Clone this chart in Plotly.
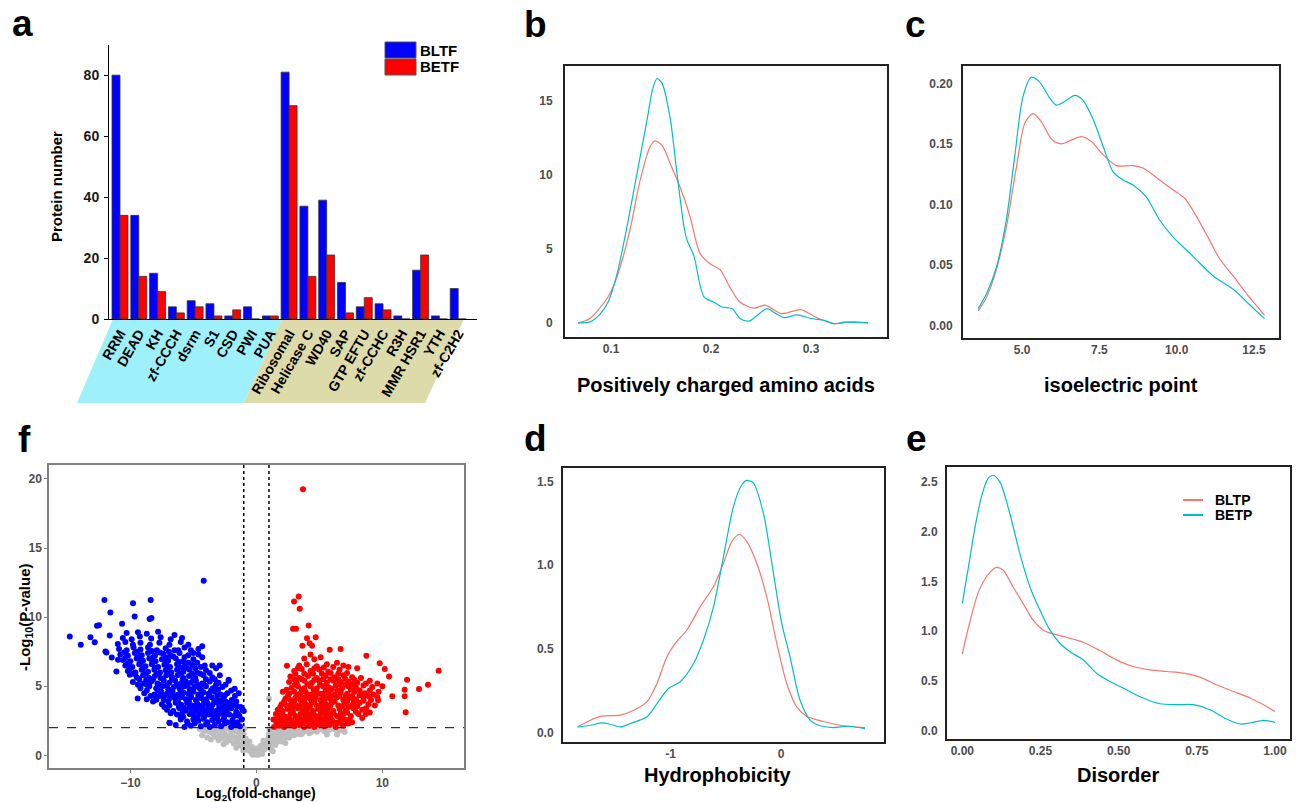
import plotly.graph_objects as go

W, H = 1296, 802
FONT = "Liberation Sans"
RED = "#F8766D"
CYAN = "#00BFC4"
TICKGRAY = "#4D4D4D"

# ---- panel a: domain families ----
domains = ["RRM", "DEAD", "KH", "zf-CCCH", "dsrm", "S1", "CSD", "PWI", "PUA",
           "Ribosomal", "Helicase C", "WD40", "SAP", "GTP EFTU", "zf-CCHC", "R3H",
           "MMR HSR1", "YTH", "zf-C2H2"]
bltf = [80, 34, 15, 4, 6, 5, 1, 4, 1, 81, 37, 39, 12, 4, 5, 1, 16, 1, 10]
betf = [34, 14, 9, 2, 4, 1, 3, 0, 1, 70, 14, 21, 2, 7, 3, 0, 21, 0, 0]

# ---- panel b: positively charged amino acids (density) ----
b_x_betp = [0.067, 0.079, 0.089, 0.097, 0.106, 0.116, 0.126, 0.136, 0.142, 0.146, 0.151, 0.159,
            0.166, 0.173, 0.176, 0.183, 0.193, 0.203, 0.211, 0.221, 0.229, 0.238, 0.246, 0.256,
            0.265, 0.273, 0.286, 0.300, 0.313, 0.323, 0.333, 0.357]
b_y_betp = [0.0, 0.07, 0.6, 1.4, 3.3, 6.5, 10.1, 13.7, 15.9, 16.5, 16.2, 13.9,
            10.1, 6.5, 5.6, 4.5, 1.76, 1.4, 1.08, 0.97, 0.3, 0.13, 0.5, 0.97,
            0.63, 0.36, 0.54, 0.3, 0.18, -0.05, 0.05, 0.0]
b_x_bltp = [0.067, 0.079, 0.097, 0.106, 0.119, 0.129, 0.139, 0.144, 0.151, 0.159, 0.169, 0.179,
            0.189, 0.199, 0.209, 0.219, 0.229, 0.243, 0.254, 0.270, 0.276, 0.290, 0.303, 0.316,
            0.323, 0.340, 0.357]
b_y_bltp = [0.0, 0.3, 1.75, 3.1, 6.3, 9.6, 11.9, 12.3, 12.0, 10.8, 9.2, 7.2,
            4.7, 4.0, 3.6, 2.4, 1.4, 1.0, 1.2, 0.63, 0.68, 0.9, 0.45, 0.07,
            -0.05, 0.07, 0.0]

# ---- panel c: isoelectric point ----
c_x_betp = [3.58, 3.85, 4.17, 4.49, 4.76, 5.03, 5.30, 5.57, 5.89, 6.11, 6.38, 6.70, 6.97,
            7.30, 7.62, 7.94, 8.27, 8.59, 9.02, 9.45, 9.88, 10.53, 11.17, 11.82, 12.36, 12.84]
c_y_betp = [0.0138, 0.026, 0.048, 0.087, 0.139, 0.189, 0.205, 0.201, 0.188, 0.182, 0.185, 0.190, 0.186,
            0.170, 0.148, 0.127, 0.120, 0.116, 0.106, 0.087, 0.073, 0.057, 0.041, 0.030, 0.017, 0.0055]
c_x_bltp = [3.58, 3.85, 4.17, 4.49, 4.82, 5.09, 5.36, 5.63, 5.95, 6.27, 6.59, 6.92, 7.24,
            7.62, 8.05, 8.59, 8.91, 9.45, 9.88, 10.26, 10.64, 11.07, 11.39, 11.82, 12.36, 12.84]
c_y_bltp = [0.0119, 0.023, 0.046, 0.081, 0.131, 0.167, 0.175, 0.168, 0.154, 0.150, 0.153, 0.156, 0.152,
            0.141, 0.132, 0.132, 0.130, 0.120, 0.112, 0.105, 0.090, 0.070, 0.055, 0.041, 0.023, 0.0083]

# ---- panel d: hydrophobicity ----
d_x_betp = [-1.84, -1.726, -1.62, -1.545, -1.455, -1.364, -1.214, -1.123, -1.018, -0.913, -0.792,
            -0.702, -0.611, -0.521, -0.431, -0.355, -0.31, -0.25, -0.16, -0.069, 0.006, 0.081,
            0.172, 0.262, 0.322, 0.473, 0.593, 0.759]
d_y_betp = [0.036, 0.046, 0.06, 0.052, 0.036, 0.056, 0.096, 0.175, 0.265, 0.305, 0.414,
            0.554, 0.753, 1.052, 1.35, 1.48, 1.506, 1.49, 1.31, 0.952, 0.653, 0.454,
            0.195, 0.076, 0.05, 0.032, 0.04, 0.026]
d_x_bltp = [-1.84, -1.726, -1.62, -1.455, -1.334, -1.214, -1.123, -1.033, -0.958, -0.852, -0.732,
            -0.611, -0.521, -0.446, -0.377, -0.31, -0.22, -0.13, -0.039, 0.051, 0.142, 0.232,
            0.383, 0.533, 0.759]
d_y_bltp = [0.036, 0.076, 0.10, 0.106, 0.135, 0.185, 0.295, 0.454, 0.534, 0.614, 0.753,
            0.873, 1.012, 1.141, 1.185, 1.141, 1.012, 0.813, 0.534, 0.295, 0.155, 0.10,
            0.068, 0.046, 0.032]

# ---- panel e: disorder ----
e_x_betp = [0.0, 0.018, 0.039, 0.061, 0.082, 0.098, 0.12, 0.152, 0.184, 0.216, 0.248, 0.28, 0.312,
            0.344, 0.386, 0.429, 0.472, 0.525, 0.578, 0.632, 0.685, 0.739, 0.792, 0.845, 0.888,
            0.92, 0.963, 1.0]
e_y_betp = [1.28, 1.614, 2.015, 2.35, 2.533, 2.567, 2.5, 2.18, 1.78, 1.447, 1.213, 1.013, 0.879,
            0.795, 0.712, 0.578, 0.495, 0.411, 0.328, 0.271, 0.261, 0.261, 0.211, 0.117, 0.067,
            0.077, 0.104, 0.084]
e_x_bltp = [0.0, 0.023, 0.05, 0.077, 0.109, 0.13, 0.162, 0.194, 0.226, 0.258, 0.29, 0.333, 0.386,
            0.44, 0.493, 0.546, 0.6, 0.653, 0.707, 0.76, 0.813, 0.867, 0.92, 0.963, 1.0]
e_y_bltp = [0.772, 1.08, 1.38, 1.547, 1.641, 1.614, 1.447, 1.28, 1.113, 1.013, 0.973, 0.939, 0.889,
            0.805, 0.712, 0.645, 0.612, 0.595, 0.578, 0.538, 0.461, 0.394, 0.328, 0.261, 0.194]

# ---- panel f: volcano (log2 fold change, -log10 p) ----
down_pts = [
    (-14.81, 8.60), (-13.94, 8.0), (-13.17, 8.55), (-12.83, 8.19), (-12.65, 9.37), (-12.49, 9.42),
    (-12.06, 11.25), (-11.98, 7.52), (-11.9, 7.45), (-11.59, 10.34), (-11.64, 8.67), (-11.48, 7.08),
    (-11.11, 6.07), (-10.98, 6.92), (-10.66, 9.52), (-10.05, 5.83), (-9.79, 11.01), (-9.66, 10.05),
    (-9.42, 4.12), (-8.39, 11.25), (-8.47, 9.86), (-8.33, 9.93), (-4.18, 12.63), (-7.94, 4.02),
    (-6.88, 2.34),
    (-6.4, 2.2), (-5.7, 2.05), (-5.2, 2.15), (-4.9, 2.3), (-4.4, 2.1), (-4.0, 2.25), (-3.7, 2.05),
    (-3.3, 2.2), (-2.8, 2.1), (-2.5, 2.3), (-2.0, 2.05), (-1.7, 2.2), (-1.3, 2.1),
    (-6.9, 2.35), (-6.0, 2.6), (-5.5, 2.45), (-5.0, 2.6), (-4.6, 2.5), (-4.2, 2.65), (-3.9, 2.4),
    (-3.5, 2.55), (-3.0, 2.45), (-2.6, 2.6), (-2.3, 2.4), (-1.9, 2.55), (-1.5, 2.4), (-1.15, 2.6),
    (-6.3, 2.95), (-5.8, 2.8), (-5.3, 3.0), (-4.95, 2.85), (-4.5, 3.0), (-4.15, 2.8), (-3.75, 2.95),
    (-3.35, 2.85), (-2.95, 3.0), (-2.55, 2.8), (-2.15, 2.95), (-1.75, 2.85), (-1.1, 3.3),
    (-7.1, 3.3), (-6.6, 3.2), (-6.1, 3.4), (-5.6, 3.25), (-5.2, 3.4), (-4.8, 3.2), (-4.4, 3.35),
    (-4.0, 3.25), (-3.6, 3.4), (-3.2, 3.2), (-2.8, 3.35), (-2.4, 3.25), (-2.0, 3.4), (-1.6, 3.15),
    (-7.5, 3.7), (-6.9, 3.6), (-6.4, 3.8), (-5.95, 3.65), (-5.5, 3.8), (-5.1, 3.6), (-4.7, 3.75),
    (-4.3, 3.6), (-3.9, 3.8), (-3.5, 3.65), (-3.1, 3.8), (-2.7, 3.6), (-2.3, 3.75), (-1.85, 3.6),
    (-8.7, 4.05), (-8.0, 4.2), (-7.35, 4.0), (-6.85, 4.15), (-6.4, 4.0), (-6.0, 4.2), (-5.6, 4.05),
    (-5.2, 4.2), (-4.8, 4.0), (-4.4, 4.15), (-4.0, 4.05), (-3.55, 4.2), (-3.15, 4.0), (-2.6, 4.15),
    (-1.95, 4.0), (-1.4, 4.5),
    (-8.9, 4.5), (-8.1, 4.4), (-7.55, 4.6), (-7.1, 4.45), (-6.65, 4.6), (-6.2, 4.4), (-5.8, 4.55),
    (-5.4, 4.45), (-5.0, 4.6), (-4.6, 4.4), (-4.2, 4.55), (-3.8, 4.45), (-3.3, 4.6), (-2.85, 4.4),
    (-2.3, 4.5),
    (-9.2, 4.85), (-8.5, 5.0), (-7.95, 4.85), (-7.45, 5.0), (-7.0, 4.8), (-6.55, 4.95), (-6.1, 4.85),
    (-5.7, 5.0), (-5.3, 4.8), (-4.9, 4.95), (-4.5, 4.85), (-4.0, 5.0), (-3.45, 4.85), (-2.7, 4.95),
    (-9.8, 5.3), (-9.0, 5.2), (-8.35, 5.35), (-7.85, 5.2), (-7.35, 5.4), (-6.9, 5.25), (-6.45, 5.4),
    (-6.0, 5.2), (-5.6, 5.35), (-5.2, 5.25), (-4.8, 5.4), (-4.3, 5.2), (-3.7, 5.35), (-3.0, 5.25),
    (-2.2, 5.4),
    (-9.5, 5.65), (-9.0, 5.8), (-8.5, 5.6), (-8.05, 5.75), (-7.6, 5.6), (-7.15, 5.8), (-6.7, 5.65),
    (-6.25, 5.8), (-5.8, 5.6), (-5.35, 5.75), (-4.85, 5.6), (-4.2, 5.8), (-3.5, 5.65), (-2.9, 5.8),
    (-10.2, 6.1), (-9.6, 6.0), (-9.1, 6.2), (-8.6, 6.05), (-8.1, 6.2), (-7.65, 6.0), (-7.2, 6.15),
    (-6.75, 6.0), (-6.3, 6.2), (-5.8, 6.05), (-5.3, 6.2), (-4.7, 6.0), (-4.0, 6.15), (-3.2, 6.3),
    (-10.4, 6.5), (-9.85, 6.4), (-9.3, 6.6), (-8.8, 6.45), (-8.3, 6.6), (-7.8, 6.4), (-7.3, 6.55),
    (-6.85, 6.4), (-6.3, 6.6), (-5.7, 6.45), (-5.1, 6.55), (-4.4, 6.4), (-3.5, 6.5),
    (-10.6, 6.9), (-10.0, 6.8), (-9.5, 7.0), (-9.0, 6.85), (-8.5, 7.0), (-8.0, 6.8), (-7.5, 6.95),
    (-7.0, 6.85), (-6.4, 7.0), (-5.8, 6.8), (-5.0, 6.95), (-4.3, 7.1),
    (-10.8, 7.3), (-10.2, 7.2), (-9.65, 7.4), (-9.1, 7.25), (-8.6, 7.4), (-8.05, 7.2), (-7.4, 7.35),
    (-6.8, 7.2), (-6.1, 7.4), (-5.4, 7.25), (-4.6, 7.3),
    (-10.9, 7.7), (-10.3, 7.6), (-9.75, 7.8), (-9.2, 7.65), (-8.6, 7.8), (-7.9, 7.6), (-7.2, 7.75),
    (-6.5, 7.6), (-5.7, 7.8), (-4.6, 7.7),
    (-11.0, 8.05), (-10.4, 8.2), (-9.8, 8.0), (-9.2, 8.15), (-8.45, 8.0), (-7.7, 8.15), (-6.9, 8.0),
    (-6.0, 8.2), (-5.4, 8.0), (-4.3, 7.9),
    (-10.6, 8.5), (-9.9, 8.4), (-9.25, 8.6), (-8.35, 8.45), (-7.6, 8.55), (-6.8, 8.4), (-5.9, 8.5),
    (-10.3, 8.85), (-9.4, 8.9), (-8.7, 8.8), (-7.8, 8.95), (-6.5, 8.7),
    (-5.45, 2.3), (-4.7, 2.75), (-3.95, 3.05), (-3.1, 2.65), (-2.45, 2.95), (-1.9, 2.3), (-4.25, 3.55),
    (-3.35, 3.9), (-2.55, 3.5), (-5.3, 3.55), (-6.05, 2.9), (-4.6, 4.25), (-3.75, 4.35), (-2.05, 3.85),
    (-1.35, 2.85), (-1.55, 3.55), (-5.9, 4.35), (-6.7, 4.25), (-7.7, 4.3), (-2.91, 6.5), (-2.2, 5.47),
    (-1.72, 4.82), (-1.0, 3.2),
    (-6.8, 3.05), (-5.85, 3.1), (-5.05, 3.05), (-4.3, 3.1), (-3.55, 3.05), (-2.75, 3.1), (-2.3, 3.05),
    (-1.45, 3.0), (-7.3, 3.5), (-6.15, 3.5), (-5.75, 3.45), (-4.95, 3.5), (-4.55, 3.45), (-3.8, 3.5),
    (-2.95, 3.5), (-2.15, 3.55), (-1.25, 3.5), (-8.2, 3.9), (-7.0, 3.9), (-6.2, 3.85), (-5.35, 3.9),
    (-4.15, 3.9), (-2.85, 3.95), (-2.45, 3.9), (-1.6, 3.9), (-8.4, 4.3), (-7.3, 4.3), (-6.45, 4.3),
    (-5.2, 4.3), (-4.4, 4.35), (-3.1, 4.3), (-2.5, 4.35), (-1.7, 4.3), (-8.7, 4.7), (-7.8, 4.7),
    (-6.9, 4.7), (-6.0, 4.7), (-5.2, 4.7), (-4.35, 4.7), (-3.6, 4.7), (-3.05, 4.75), (-2.0, 4.7),
    (-9.4, 5.1), (-8.7, 5.1), (-7.7, 5.1), (-7.1, 5.05), (-6.3, 5.1), (-5.5, 5.1), (-4.7, 5.1),
    (-4.15, 5.1), (-3.2, 5.1), (-2.45, 5.1), (-9.3, 5.5), (-8.75, 5.45), (-8.2, 5.5), (-7.4, 5.5),
    (-6.7, 5.5), (-5.85, 5.5), (-5.0, 5.5), (-4.0, 5.5), (-3.3, 5.5), (-9.8, 5.9), (-8.8, 5.9),
    (-7.9, 5.9), (-6.95, 5.9), (-6.0, 5.9), (-5.1, 5.9), (-4.45, 5.9), (-3.7, 5.95), (-10.0, 6.3),
    (-9.0, 6.3), (-8.05, 6.35), (-7.05, 6.3), (-6.05, 6.35), (-5.5, 6.3), (-4.85, 6.3), (-4.1, 6.5),
    (-10.2, 6.65), (-9.2, 6.7), (-8.25, 6.75), (-7.15, 6.7), (-6.1, 6.75), (-5.4, 6.7), (-4.7, 6.7),
    (-10.4, 7.05), (-9.35, 7.1), (-8.2, 7.1), (-7.2, 7.1), (-6.6, 7.15), (-5.7, 7.1), (-5.0, 7.4),
    (-10.5, 7.45), (-9.45, 7.5), (-8.3, 7.55), (-7.65, 7.45), (-6.95, 7.5), (-6.2, 7.6), (-5.2, 7.6),
]
up_pts = [
    (3.70, 19.25), (3.36, 11.49), (2.99, 11.13), (3.44, 10.6), (4.15, 9.4), (2.91, 9.16), (3.15, 9.16),
    (4.02, 8.48), (4.71, 8.55), (4.23, 8.12), (4.42, 7.93), (3.65, 7.93), (5.82, 7.64), (6.69, 7.69),
    (8.73, 7.2), (9.79, 6.67), (10.19, 6.24), (10.53, 5.71), (11.96, 5.47), (14.47, 6.12), (13.62, 5.11),
    (12.91, 4.80), (11.77, 4.75), (11.77, 4.27), (11.85, 3.11), (10.79, 4.27), (9.66, 3.98), (2.43, 6.48),
    (8.68, 2.99), (7.22, 2.34),
    (1.4, 2.05), (1.8, 2.15), (2.2, 2.05), (2.6, 2.2), (3.0, 2.1), (3.4, 2.2), (3.8, 2.05), (4.2, 2.15),
    (4.6, 2.05), (5.0, 2.2), (5.4, 2.1), (5.8, 2.2), (6.3, 2.05), (6.9, 2.15), (7.3, 2.3),
    (1.6, 2.45), (2.0, 2.6), (2.4, 2.45), (2.8, 2.55), (3.2, 2.4), (3.6, 2.6), (4.0, 2.45), (4.4, 2.55),
    (4.8, 2.4), (5.2, 2.6), (5.6, 2.45), (6.0, 2.55), (6.5, 2.4), (7.0, 2.6),
    (1.9, 2.9), (2.3, 2.8), (2.7, 3.0), (3.1, 2.85), (3.5, 3.0), (3.9, 2.8), (4.3, 2.95), (4.7, 2.85),
    (5.1, 3.0), (5.5, 2.8), (5.9, 2.95), (6.4, 2.85), (6.9, 3.0), (7.5, 2.85), (8.1, 3.0),
    (1.7, 3.3), (2.1, 3.2), (2.5, 3.35), (2.9, 3.2), (3.3, 3.4), (3.7, 3.25), (4.1, 3.4), (4.5, 3.2),
    (4.9, 3.35), (5.3, 3.25), (5.7, 3.4), (6.1, 3.2), (6.6, 3.35), (7.1, 3.25), (7.7, 3.4), (8.4, 3.3),
    (2.0, 3.7), (2.4, 3.6), (2.8, 3.75), (3.2, 3.6), (3.6, 3.8), (4.0, 3.65), (4.4, 3.8), (4.8, 3.6),
    (5.2, 3.75), (5.6, 3.65), (6.0, 3.8), (6.5, 3.6), (7.0, 3.75), (7.6, 3.65), (8.2, 3.8), (8.9, 3.7),
    (9.4, 3.6),
    (2.3, 4.1), (2.7, 4.0), (3.1, 4.15), (3.5, 4.0), (3.9, 4.2), (4.3, 4.05), (4.7, 4.2), (5.1, 4.0),
    (5.5, 4.15), (5.9, 4.05), (6.4, 4.2), (6.9, 4.0), (7.4, 4.15), (7.9, 4.05), (8.5, 4.2), (9.1, 4.0),
    (2.1, 4.6), (2.6, 4.45), (3.0, 4.6), (3.45, 4.45), (3.9, 4.6), (4.35, 4.4), (4.8, 4.55), (5.25, 4.45),
    (5.7, 4.6), (6.2, 4.4), (6.7, 4.55), (7.2, 4.45), (7.8, 4.6), (8.6, 4.5), (9.3, 4.4),
    (2.8, 4.9), (3.3, 5.0), (3.8, 4.85), (4.3, 5.0), (4.8, 4.85), (5.3, 5.0), (5.8, 4.9), (6.3, 5.05),
    (6.8, 4.85), (7.3, 5.0), (7.9, 4.9), (8.5, 5.05), (9.2, 4.95), (10.0, 5.0),
    (2.6, 5.3), (3.2, 5.25), (3.8, 5.4), (4.4, 5.25), (5.0, 5.4), (5.6, 5.25), (6.1, 5.4), (6.7, 5.3),
    (7.3, 5.35), (8.0, 5.25), (9.0, 5.4), (9.6, 5.2),
    (2.7, 5.7), (3.4, 5.6), (4.1, 5.75), (4.8, 5.6), (5.5, 5.75), (6.2, 5.65), (6.9, 5.8), (7.6, 5.65),
    (8.3, 5.6),
    (3.0, 6.1), (3.6, 6.25), (4.3, 6.1), (5.0, 6.2), (5.7, 6.05), (6.6, 6.2), (7.3, 6.4), (8.0, 6.3),
    (3.4, 6.5), (4.0, 6.6), (4.8, 6.45), (5.6, 6.6), (6.4, 6.7),
    (3.8, 7.0), (4.6, 6.95), (5.1, 7.1), (4.3, 7.3),
    (2.4, 2.25), (3.25, 2.7), (4.05, 3.05), (4.85, 2.65), (5.65, 3.1), (3.0, 3.55), (3.85, 3.45),
    (4.6, 3.9), (5.45, 3.55), (6.25, 2.35), (6.7, 3.05), (2.0, 2.4), (3.5, 4.35), (4.1, 4.4), (5.0, 4.45),
    (6.0, 4.35), (1.35, 2.6), (1.55, 3.0),
    (1.6, 2.25), (2.8, 2.3), (3.6, 2.3), (4.4, 2.3), (5.2, 2.35), (6.0, 2.3), (6.7, 2.3), (7.6, 2.4),
    (1.75, 2.7), (2.55, 2.75), (3.4, 2.7), (4.2, 2.7), (5.0, 2.8), (5.85, 2.7), (6.7, 2.7), (7.4, 2.6),
    (8.4, 2.7), (2.05, 3.05), (2.9, 3.05), (3.7, 3.1), (4.5, 3.05), (5.3, 3.05), (6.1, 3.05), (7.2, 3.1),
    (7.9, 3.15), (9.0, 3.1), (1.9, 3.5), (2.65, 3.5), (3.45, 3.5), (4.25, 3.55), (5.05, 3.55), (5.85, 3.55),
    (6.8, 3.55), (7.3, 3.5), (8.0, 3.55), (8.7, 3.4), (2.2, 3.9), (3.0, 3.95), (3.8, 3.95), (5.4, 3.9),
    (6.2, 3.9), (7.2, 3.9), (7.75, 3.9), (8.5, 3.95), (9.6, 4.2), (2.5, 4.3), (3.2, 4.3), (4.5, 4.3),
    (5.3, 4.3), (5.75, 4.35), (6.6, 4.3), (7.1, 4.3), (7.6, 4.3), (8.2, 4.35), (8.9, 4.3), (2.4, 4.75),
    (3.6, 4.75), (4.55, 4.75), (5.5, 4.75), (6.0, 4.8), (6.45, 4.7), (7.5, 4.75), (8.2, 4.7), (9.0, 4.7),
    (9.7, 4.6), (3.05, 5.1), (4.05, 5.15), (5.05, 5.1), (5.55, 5.1), (6.55, 5.15), (7.05, 5.1), (7.6, 5.15),
    (8.7, 5.2), (3.0, 5.5), (3.6, 5.5), (4.6, 5.45), (5.3, 5.5), (5.9, 5.5), (6.5, 5.5), (7.05, 5.55),
    (7.8, 5.45), (3.1, 5.9), (3.8, 5.9), (4.5, 5.9), (5.2, 5.9), (5.9, 5.95), (6.5, 5.9), (7.2, 5.95),
    (3.3, 6.3), (4.6, 6.3), (5.35, 6.35), (6.1, 6.4), (6.9, 6.5),
]
ns_pts = [
    (-4.5, 1.9), (-4.1, 1.75), (-3.8, 1.9), (-3.5, 1.6), (-3.2, 1.85), (-2.9, 1.5), (-2.6, 1.75),
    (-2.3, 1.4), (-2.0, 1.7), (-1.7, 1.3), (-1.4, 1.6), (-1.1, 1.2), (-4.3, 1.45), (-3.9, 1.3),
    (-3.6, 1.15), (-3.3, 1.35), (-3.0, 1.1), (-2.7, 1.25), (-2.4, 0.95), (-2.1, 1.1), (-1.8, 0.85),
    (-1.5, 1.0), (-1.2, 0.7), (-0.9, 0.9), (-0.8, 0.5), (-0.6, 0.35), (-0.4, 0.2), (-0.2, 0.1),
    (0.0, 0.05), (0.2, 0.15), (0.4, 0.25), (0.6, 0.4), (0.8, 0.55), (-0.7, 0.7), (-0.5, 0.5),
    (-0.3, 0.4), (-0.1, 0.3), (0.1, 0.35), (0.3, 0.5), (0.5, 0.65), (0.7, 0.8), (-1.0, 1.55),
    (-1.3, 1.85), (-0.95, 1.95), (1.0, 0.7), (1.2, 0.9), (1.4, 1.05), (1.6, 0.95), (1.8, 1.2),
    (2.0, 1.35), (2.2, 1.15), (2.4, 1.5), (2.6, 1.3), (2.8, 1.6), (3.0, 1.45), (3.3, 1.7), (3.6, 1.55),
    (3.9, 1.8), (4.2, 1.6), (4.5, 1.85), (4.8, 1.7), (5.1, 1.9), (5.4, 1.75), (5.8, 1.85), (6.2, 1.9),
    (6.6, 1.8), (7.0, 1.7), (1.1, 1.3), (1.3, 1.6), (1.5, 1.45), (1.7, 1.75), (1.9, 1.6), (2.1, 1.85),
    (2.5, 1.8), (2.9, 1.9), (3.2, 1.95), (3.5, 1.9), (4.0, 1.95), (4.7, 1.95), (0.9, 1.0), (1.05, 1.9),
    (1.15, 0.45), (-1.05, 0.35), (1.3, 0.3), (2.3, 0.9), (-2.6, 0.8), (-1.6, 0.55), (0.55, 1.05),
    (-0.55, 1.0), (5.6, 1.5), (6.4, 1.5), (-4.0, 1.95), (-3.4, 1.95), (-2.2, 1.95), (-1.6, 1.95),
    (1.0, 4.1),
    (-4.2, 1.85), (-3.7, 1.7), (-3.1, 1.6), (-2.5, 1.55), (-1.9, 1.45), (-1.3, 1.35), (-0.85, 1.2),
    (-2.8, 1.35), (-2.2, 1.25), (-1.6, 1.15), (-1.0, 1.0), (-0.65, 0.85), (-0.35, 0.6), (0.05, 0.5),
    (0.35, 0.7), (0.65, 0.95), (0.95, 1.25), (1.25, 1.4), (1.55, 1.65), (1.85, 1.5), (2.15, 1.6),
    (2.45, 1.7), (2.75, 1.85), (3.1, 1.85), (3.4, 1.55), (3.75, 1.7), (4.1, 1.85), (4.4, 1.7),
    (1.0, 1.55), (-1.25, 1.95), (-1.75, 1.8), (-2.5, 1.9), (-3.0, 1.8), (-0.15, 0.15), (0.15, 0.05),
    (-0.3, 0.05), (0.45, 0.1), (-1.4, 0.8), (1.5, 0.75), (1.95, 1.0),
]
fc_cut = 1
p_cut = 2


def px(v):
    return v / W


def py(v):
    return 1 - v / H


fig = go.Figure()

# panel a bars
fig.add_trace(go.Bar(x=domains, y=bltf, marker=dict(color="#0000FF", line=dict(color="#333333", width=0.8)),
                     xaxis="x", yaxis="y"))
fig.add_trace(go.Bar(x=domains, y=betf, marker=dict(color="#FF0000", line=dict(color="#333333", width=0.8)),
                     xaxis="x", yaxis="y"))

# density curves
dens = [("x2", "y2", b_x_bltp, b_y_bltp, b_x_betp, b_y_betp),
        ("x3", "y3", c_x_bltp, c_y_bltp, c_x_betp, c_y_betp),
        ("x4", "y4", d_x_bltp, d_y_bltp, d_x_betp, d_y_betp),
        ("x5", "y5", e_x_bltp, e_y_bltp, e_x_betp, e_y_betp)]
for xa, ya, xr, yr, xc, yc in dens:
    fig.add_trace(go.Scatter(x=xr, y=yr, mode="lines", line=dict(color=RED, width=1.2, shape="spline", smoothing=0.8),
                             xaxis=xa, yaxis=ya))
    fig.add_trace(go.Scatter(x=xc, y=yc, mode="lines", line=dict(color=CYAN, width=1.2, shape="spline", smoothing=0.8),
                             xaxis=xa, yaxis=ya))

# volcano
for pts, col in [(ns_pts, "#BEBEBE"), (up_pts, "#FF0000"), (down_pts, "#0000FF")]:
    fig.add_trace(go.Scatter(x=[p[0] for p in pts], y=[p[1] for p in pts], mode="markers",
                             marker=dict(color=col, size=6), xaxis="x6", yaxis="y6"))

tickf = dict(family=FONT, size=12, color=TICKGRAY, weight="bold")
frame = dict(showline=True, mirror=True, linecolor="#222222", linewidth=2, showgrid=False, zeroline=False,
             ticks="", tickfont=tickf, automargin=False)

fig.update_layout(
    width=W, height=H, margin=dict(l=0, r=0, t=0, b=0, autoexpand=False),
    paper_bgcolor="white", plot_bgcolor="white", showlegend=False,
    font=dict(family=FONT, color="black"),
    barmode="group", bargap=0.15, bargroupgap=0,
    xaxis=dict(domain=[px(109), px(477)], range=[-0.585, 19.0], anchor="y", showline=True, linecolor="black",
               linewidth=1, showgrid=False, ticks="", tickangle=-60, automargin=False,
               tickfont=dict(family=FONT, size=14, color="black", weight="bold")),
    yaxis=dict(domain=[py(319), py(45)], range=[0, 89.9], anchor="x", showline=True, linecolor="black",
               linewidth=1, showgrid=False, zeroline=False, ticks="outside", ticklen=4, tickcolor="black",
               tickvals=[0, 20, 40, 60, 80], ticklabelstandoff=2, automargin=False,
               tickfont=dict(family=FONT, size=14, color="#1a1a1a", weight="bold")),
    xaxis2=dict(frame, domain=[px(565), px(887)], range=[0.054, 0.376], anchor="y2", tickvals=[0.1, 0.2, 0.3]),
    yaxis2=dict(frame, domain=[py(337), py(66)], range=[-0.95, 17.36], anchor="x2", tickvals=[0, 5, 10, 15],
                ticklabelstandoff=8),
    xaxis3=dict(frame, domain=[px(963), px(1279)], range=[3.09, 13.31], anchor="y3",
                tickvals=[5, 7.5, 10, 12.5], tickformat=".1f"),
    yaxis3=dict(frame, domain=[py(338), py(66)], range=[-0.0105, 0.2143], anchor="x3",
                tickvals=[0, 0.05, 0.1, 0.15, 0.2], tickformat=".2f", ticklabelstandoff=6),
    xaxis4=dict(frame, domain=[px(563), px(884)], range=[-1.973, 0.931], anchor="y4", tickvals=[-1, 0],
                ticktext=["-1", "0"]),
    yaxis4=dict(frame, domain=[py(742), py(468)], range=[-0.054, 1.58], anchor="x4",
                tickvals=[0, 0.5, 1.0, 1.5], tickformat=".1f", ticklabelstandoff=5),
    xaxis5=dict(frame, domain=[px(947), px(1290)], range=[-0.049, 1.048], anchor="y5",
                tickvals=[0, 0.25, 0.5, 0.75, 1.0], tickformat=".2f"),
    yaxis5=dict(frame, domain=[py(739), py(467)], range=[-0.0836, 2.65], anchor="x5",
                tickvals=[0, 0.5, 1.0, 1.5, 2.0, 2.5], tickformat=".1f", ticklabelstandoff=5),
    xaxis6=dict(domain=[px(49), px(464)], range=[-16.46, 16.48], anchor="y6", showline=True, mirror=True,
                linecolor="#7F7F7F", linewidth=1.5, showgrid=False, zeroline=False, ticks="outside",
                ticklen=3, tickcolor="#7F7F7F", tickvals=[-10, 0, 10], tickfont=tickf, automargin=False),
    yaxis6=dict(domain=[py(768), py(465)], range=[-0.916, 21.01], anchor="x6", showline=True, mirror=True,
                linecolor="#7F7F7F", linewidth=1.5, showgrid=False, zeroline=False, ticks="outside",
                ticklen=3, tickcolor="#7F7F7F", tickvals=[0, 5, 10, 15, 20], tickfont=tickf, automargin=False),
)

shapes = [
    # label backgrounds in panel a
    dict(type="path", xref="paper", yref="paper", layer="below", line=dict(width=0), fillcolor="#9EF0FA",
         path=f"M {px(113)} {py(319)} L {px(282)} {py(319)} L {px(244)} {py(403)} L {px(77)} {py(403)} Z"),
    dict(type="path", xref="paper", yref="paper", layer="below", line=dict(width=0), fillcolor="#DDDBA9",
         path=f"M {px(282)} {py(319)} L {px(464)} {py(319)} L {px(425)} {py(403)} L {px(244)} {py(403)} Z"),
    # legend a
    dict(type="rect", xref="paper", yref="paper", x0=px(385), x1=px(416), y0=py(58), y1=py(42),
         fillcolor="#0000FF", line=dict(color="#555555", width=1)),
    dict(type="rect", xref="paper", yref="paper", x0=px(385), x1=px(416), y0=py(75), y1=py(59),
         fillcolor="#FF0000", line=dict(color="#555555", width=1)),
    # legend e
    dict(type="line", xref="paper", yref="paper", x0=px(1183), x1=px(1203), y0=py(500), y1=py(500),
         line=dict(color=RED, width=2)),
    dict(type="line", xref="paper", yref="paper", x0=px(1183), x1=px(1203), y0=py(515), y1=py(515),
         line=dict(color=CYAN, width=2)),
    # volcano thresholds
    dict(type="line", xref="x6", yref="y6 domain", x0=-fc_cut, x1=-fc_cut, y0=0, y1=1,
         line=dict(color="black", width=1.5, dash="dot")),
    dict(type="line", xref="x6", yref="y6 domain", x0=fc_cut, x1=fc_cut, y0=0, y1=1,
         line=dict(color="black", width=1.5, dash="dot")),
    dict(type="line", xref="x6 domain", yref="y6", x0=0, x1=1, y0=p_cut, y1=p_cut,
         line=dict(color="black", width=1, dash="dash")),
]
fig.update_layout(shapes=shapes)


def note(text, x, y, size, angle=0, xanchor="center", color="black"):
    fig.add_annotation(text=text, x=px(x), y=py(y), xref="paper", yref="paper", showarrow=False,
                       xanchor=xanchor, yanchor="middle", textangle=angle,
                       font=dict(family=FONT, size=size, color=color, weight="bold"))


# panel letters
for lab, x, y in [("a", 22, 23.5), ("b", 535, 24.5), ("c", 915, 24.5),
                  ("f", 24, 439.5), ("d", 535, 438.5), ("e", 916, 438.5)]:
    note(lab, x, y, 37)

# axis titles
note("Protein number", 57, 187, 15, angle=-90)
note("Positively charged amino acids", 726, 385, 20)
note("isoelectric point", 1121, 385, 20)
note("Hydrophobicity", 718, 775, 20)
note("Disorder", 1118, 775, 20)
note("Log<sub>2</sub>(fold-change)", 256, 794, 14)
note("-Log<sub>10</sub>(P-value)", 25, 617, 15, angle=-90)

# legend texts
note("BLTF", 418, 50, 15, xanchor="left")
note("BETF", 418, 67, 15, xanchor="left")
note("BLTP", 1213, 500, 14, xanchor="left")
note("BETP", 1213, 515, 14, xanchor="left")

fig.write_html("out.html", config={"displayModeBar": False},
               post_script="document.body.style.margin='0px';")
